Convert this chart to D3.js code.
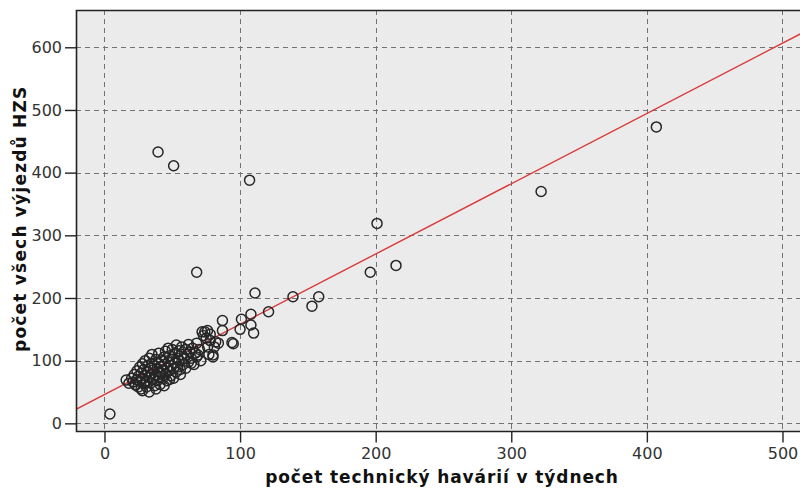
<!DOCTYPE html>
<html>
<head>
<meta charset="utf-8">
<script src="https://cdn.jsdelivr.net/npm/d3@7"></script>
<style>
  html, body { margin: 0; padding: 0; background: #fff; }
  svg { display: block; }
</style>
</head>
<body>
<svg id="chart" width="800" height="488"></svg>
<script>
// Weekly counts: technical accidents (x) vs. all fire-brigade call-outs (y)
const techAccidents = [
  16,18,20,21,22,23,24,24,25,25,26,26,27,27,28,28,29,29,30,30,31,31,32,32,33,33,34,34,35,35,35,36,36,37,37,
  38,38,39,39,40,40,40,41,41,42,42,43,43,44,44,45,45,46,46,47,47,48,48,49,49,50,50,51,51,52,52,53,53,54,54,
  55,55,56,57,57,58,59,60,60,61,62,62,63,64,65,66,67,68,68,70,71,72,73,74,75,76,77,78,80,81,82,76,78,
  28,33,38,44,30,36,42,48,56,64,
  69,80,84,95,87,87,94,100,101,108,108,110,111,121,139,153,158,196,201,215,322,407,4,39.5,51,107,68
];
const allCallouts = [
  69,64,72,66,78,61,70,84,58,75,67,90,80,55,72,95,63,86,76,100,68,58,82,92,74,104,64,88,79,96,110,70,85,60,92,
  78,102,68,88,95,74,112,82,62,90,100,72,84,106,94,78,115,88,68,98,120,84,108,76,92,102,118,88,72,112,96,125,82,104,90,
  116,100,86,110,122,94,104,118,88,110,126,98,114,104,120,94,112,106,128,118,100,146,140,146,136,122,110,132,106,122,130,148,142,
  52,50,55,60,65,72,80,70,78,96,
  109,109,128,127,148,164,129,150,166,157,174,144,208,178,202,187,202,241,319,252,370,473,15,433,411,388,241
];

// Least-squares line drawn across the plot
const fitIntercept = [46];
const fitSlope = [1.121];

const xTicks = [0, 100, 200, 300, 400, 500];
const yTicks = [0, 100, 200, 300, 400, 500, 600];

const points = techAccidents.map((v, i) => ({ x: v, y: allCallouts[i] }));

const svg = d3.select("#chart");
const pLeft = 76, pTop = 10, pRight = 810, pBottom = 431.5;

const x = d3.scaleLinear().domain([-21, 520.3]).range([pLeft, pRight]);
const y = d3.scaleLinear().domain([-13, 659.5]).range([pBottom, pTop]);

svg.append("defs").append("clipPath").attr("id", "plotClip")
  .append("rect").attr("x", pLeft).attr("y", pTop)
  .attr("width", pRight - pLeft).attr("height", pBottom - pTop);

// panel background
svg.append("rect")
  .attr("x", pLeft).attr("y", pTop)
  .attr("width", pRight - pLeft).attr("height", pBottom - pTop)
  .attr("fill", "#ebebeb");

// dashed grid
const grid = svg.append("g").attr("clip-path", "url(#plotClip)")
  .attr("stroke", "#737373").attr("stroke-width", 1).attr("stroke-dasharray", "5,4");
grid.selectAll("line.v").data(xTicks).join("line").attr("class", "v")
  .attr("x1", d => Math.round(x(d)) + 0.5).attr("x2", d => Math.round(x(d)) + 0.5)
  .attr("y1", pTop).attr("y2", pBottom);
grid.selectAll("line.h").data(yTicks).join("line").attr("class", "h")
  .attr("y1", d => Math.round(y(d)) + 0.5).attr("y2", d => Math.round(y(d)) + 0.5)
  .attr("x1", pLeft).attr("x2", pRight);

// fitted line
const fit = svg.append("g").attr("clip-path", "url(#plotClip)");
const xd = x.domain();
fit.append("line")
  .attr("x1", x(xd[0])).attr("y1", y(fitIntercept[0] + fitSlope[0] * xd[0]))
  .attr("x2", x(xd[1])).attr("y2", y(fitIntercept[0] + fitSlope[0] * xd[1]))
  .attr("stroke", "#d9393b").attr("stroke-width", 1.4);

// markers
svg.append("g").attr("clip-path", "url(#plotClip)")
  .selectAll("circle").data(points).join("circle")
  .attr("cx", d => x(d.x)).attr("cy", d => y(d.y)).attr("r", 5)
  .attr("fill", "none").attr("stroke", "#262626").attr("stroke-width", 1.5);

// frame
svg.append("path")
  .attr("d", `M${pRight},${pTop + 0.5}H${pLeft + 0.5}V${pBottom}H${pRight}`)
  .attr("fill", "none").attr("stroke", "#222").attr("stroke-width", 1.6);

// axes
const tickFont = "'DejaVu Sans', Verdana, sans-serif";
const xAxis = svg.append("g").attr("transform", `translate(0,${pBottom})`)
  .call(d3.axisBottom(x).tickValues(xTicks).tickSize(11).tickPadding(5).tickFormat(d3.format("d")));
const yAxis = svg.append("g").attr("transform", `translate(${pLeft},0)`)
  .call(d3.axisLeft(y).tickValues(yTicks).tickSize(11).tickPadding(3).tickFormat(d3.format("d")));
[xAxis, yAxis].forEach(g => {
  g.select(".domain").remove();
  g.selectAll(".tick line").attr("stroke", "#222").attr("stroke-width", 1.4);
  g.selectAll(".tick text").attr("fill", "#333").style("font-family", tickFont).style("font-size", "16px");
});

// axis titles
svg.append("text")
  .attr("x", (pLeft + pRight) / 2 - 1).attr("y", 483)
  .attr("text-anchor", "middle")
  .style("font-family", tickFont).style("font-size", "17px").style("font-weight", "bold")
  .style("letter-spacing", "0.9px")
  .attr("fill", "#111")
  .text("počet technický havárií v týdnech");
svg.append("text")
  .attr("transform", `translate(26,${(pTop + pBottom) / 2 - 2}) rotate(-90)`)
  .attr("text-anchor", "middle")
  .style("font-family", tickFont).style("font-size", "17px").style("font-weight", "bold")
  .style("letter-spacing", "1.2px")
  .attr("fill", "#111")
  .text("počet všech výjezdů HZS");
</script>
</body>
</html>
